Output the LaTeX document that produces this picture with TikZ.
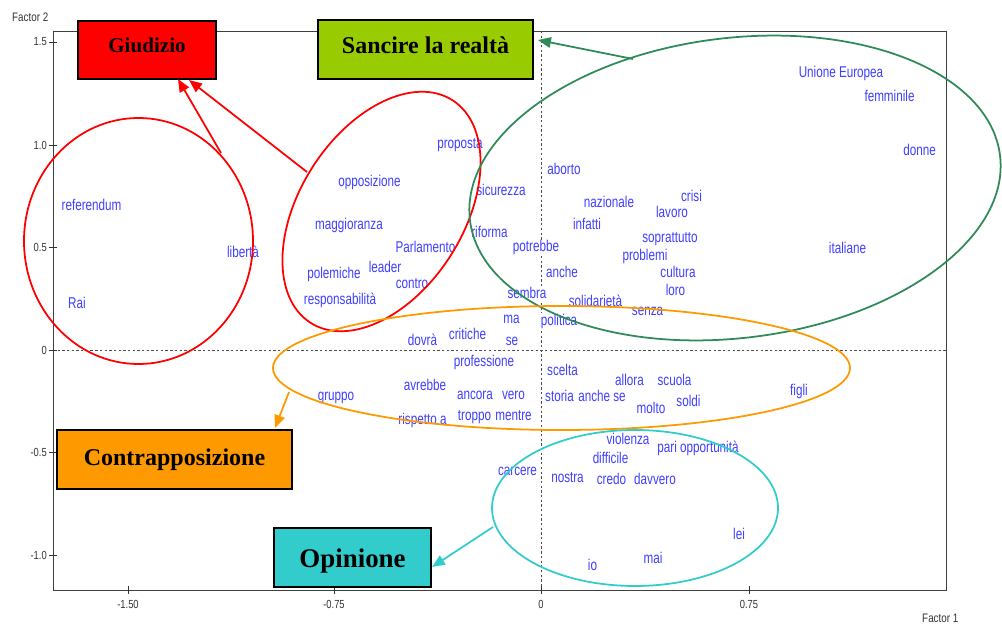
\documentclass[tikz,border=0pt]{standalone}
\usepackage{fontspec}
\setmainfont{Liberation Serif}
\newfontfamily\wordfont[FakeStretch=0.75]{Liberation Sans}
\newfontfamily\axisfont[FakeStretch=0.8]{Liberation Sans}
\usetikzlibrary{arrows.meta}

\definecolor{wordblue}{RGB}{64,64,255}
\definecolor{clusterred}{RGB}{255,0,0}
\definecolor{clustergreen}{RGB}{46,139,87}
\definecolor{clusterorange}{RGB}{255,153,0}
\definecolor{clustercyan}{RGB}{51,204,204}
\definecolor{realtagreen}{RGB}{153,204,0}

\begin{document}
\begin{tikzpicture}[x=0.03cm, y=-0.03cm,
  frame/.style={draw=black!75, line width=0.8pt},
  zeroline/.style={draw=black!70, line width=0.8pt, dash pattern=on 2pt off 2pt},
  tickmark/.style={draw=black!80, line width=0.8pt},
  ticklabel/.style={font=\axisfont\fontsize{10}{12}\selectfont, text=black!80, inner sep=0pt},
  axislabel/.style={font=\axisfont\fontsize{10.5}{12}\selectfont, text=black!80, inner sep=0pt, anchor=west},
  word/.style={font=\wordfont\fontsize{13.3}{15}\selectfont, text=wordblue, fill=white, inner sep=0.6pt, anchor=base},
  catbox/.style={draw=black, line width=1.5pt, inner sep=0pt},
  cattext/.style={anchor=base, inner sep=0pt, text=black},
  ring/.style={line width=1.5pt},
  pointer/.style={line width=1.5pt, -{Triangle[length=11pt,width=9pt]}},
]
\useasboundingbox (0,0) rectangle (1002,625);

% plot frame and the two zero lines
\draw[frame] (53,31) rectangle (946,590);
\draw[zeroline] (53,350) -- (946,350);
\draw[zeroline] (541,31) -- (541,590);

% vertical axis: ticks and values
\foreach \yy/\lab in {42/1.5, 145/1.0, 247/0.5, 350/0, 452/-0.5, 555/-1.0}{
  \draw[tickmark] (49,\yy) -- (57,\yy);
  \node[ticklabel, anchor=east] (ytick\yy) at (47,\yy) {\lab};
}
% horizontal axis: ticks and values
\foreach \xx/\lab in {128/-1.50, 334/-0.75, 541/0, 749/0.75}{
  \draw[tickmark] (\xx,586) -- (\xx,594);
  \node[ticklabel] (xtick\xx) at (\xx,604) {\lab};
}
\node[axislabel] (factorTwo) at (12,17) {Factor 2};
\node[axislabel] (factorOne) at (922,618) {Factor 1};

% words of the factorial map (x, baseline)
\foreach \nm/\xx/\yy/\txt in {
  wReferendum/91.5/211/referendum, wLiberta/243/258/libertà, wRai/77/309/Rai,
  wProposta/460/149/proposta, wOpposizione/369.5/187/opposizione,
  wSicurezza/501/196/sicurezza, wMaggioranza/349/230/maggioranza,
  wRiforma/489.5/238/riforma, wParlamento/425.5/253/Parlamento,
  wPotrebbe/536/252/potrebbe, wLeader/385/273/leader, wPolemiche/334/279/polemiche,
  wContro/412/289/contro, wResponsabilita/340/305/responsabilità,
  wSembra/527/299/sembra, wMa/511.5/324/ma, wPolitica/559/325/politica,
  wSe/512/345/se, wCritiche/467.5/340/critiche, wDovra/422.5/345/dovrà,
  wProfessione/484/366/professione, wGruppo/336/400/gruppo, wAvrebbe/425/390/avrebbe,
  wAncora/475/399/ancora, wVero/513.5/399/vero, wRispetto/422.5/424/rispetto a,
  wTroppo/474.5/420/troppo, wMentre/513.5/420/mentre,
  wAborto/564/175/aborto, wNazionale/609/208/nazionale, wCrisi/691.5/202/crisi,
  wLavoro/672/218/lavoro, wInfatti/587/230/infatti, wSoprattutto/670/243/soprattutto,
  wProblemi/645/261/problemi, wAnche/562/278/anche, wCultura/678/278/cultura,
  wLoro/675.5/296/loro, wSolidarieta/595.5/306/solidarietà, wSenza/647.5/316/senza,
  wUnione/841/78/Unione Europea, wFemminile/889.5/102/femminile,
  wDonne/919.5/156/donne, wItaliane/847.5/254/italiane,
  wScelta/562.5/375/scelta, wStoria/559.5/401/storia, wAncheSe/602/401/anche se,
  wAllora/629.5/385/allora, wScuola/674.5/385/scuola, wMolto/651/413/molto,
  wSoldi/688.5/406/soldi, wFigli/799/395/figli,
  wViolenza/628/444/violenza, wPari/698/452/pari opportunità,
  wDifficile/610.5/463/difficile, wNostra/567.5/482/nostra, wCredo/611.5/484/credo,
  wDavvero/655/484/davvero, wCarcere/517.5/475/carcere,
  wLei/739/539/lei, wMai/653/563/mai, wIo/592.5/570/io}{
  \node[word] (\nm) at (\xx,\yy) {\txt};
}

% category boxes
\node[catbox, fill=clusterred, minimum width=4.14cm, minimum height=1.74cm] (giudizio) at (147,50) {};
\node[cattext, font=\bfseries\fontsize{18}{20}\selectfont] (giudizioText) at (147,53) {Giudizio};

\node[catbox, fill=realtagreen, minimum width=6.45cm, minimum height=1.77cm] (sancire) at (425.5,49.5) {};
\node[cattext, font=\bfseries\fontsize{20.5}{22}\selectfont] (sancireText) at (425.5,54) {Sancire la realtà};

\node[catbox, fill=clusterorange, minimum width=7.05cm, minimum height=1.77cm] (contrapp) at (174.5,459.5) {};
\node[cattext, font=\bfseries\fontsize{20.5}{22}\selectfont] (contrappText) at (174.5,465) {Contrapposizione};

\node[catbox, fill=clustercyan, minimum width=4.71cm, minimum height=1.77cm] (opinione) at (352.5,557.5) {};
\node[cattext, font=\bfseries\fontsize{23}{25}\selectfont] (opinioneText) at (352.5,567) {Opinione};

% clusters
\draw[ring, clusterred] (138.5,241) ellipse [x radius=114.5, y radius=123];
\draw[ring, clusterred, rotate around={57.5:(381.5,211.5)}] (381.5,211.5) ellipse [x radius=132, y radius=82];
\draw[ring, clustergreen, rotate around={7:(735,188)}] (735,188) ellipse [x radius=267, y radius=150];
\draw[ring, clusterorange] (561.5,368) ellipse [x radius=288.5, y radius=62];
\draw[ring, clustercyan] (635,508) ellipse [x radius=143, y radius=78];

% pointers from the clusters to their categories
\coordinate (redStartA) at (221,153);
\coordinate (redTipA) at (178,79);
\coordinate (redStartB) at (307,172);
\coordinate (redTipB) at (189,80);
\coordinate (greenStart) at (633,59);
\coordinate (greenTip) at (538,40);
\coordinate (orangeStart) at (289,392);
\coordinate (orangeTip) at (275,428);
\coordinate (cyanStart) at (493,527);
\coordinate (cyanTip) at (432,567);

\draw[pointer, clusterred] (redStartA) -- (redTipA);
\draw[pointer, clusterred] (redStartB) -- (redTipB);
\draw[pointer, clustergreen] (greenStart) -- (greenTip);
\draw[pointer, clusterorange] (orangeStart) -- (orangeTip);
\draw[pointer, clustercyan] (cyanStart) -- (cyanTip);
\end{tikzpicture}
\end{document}
